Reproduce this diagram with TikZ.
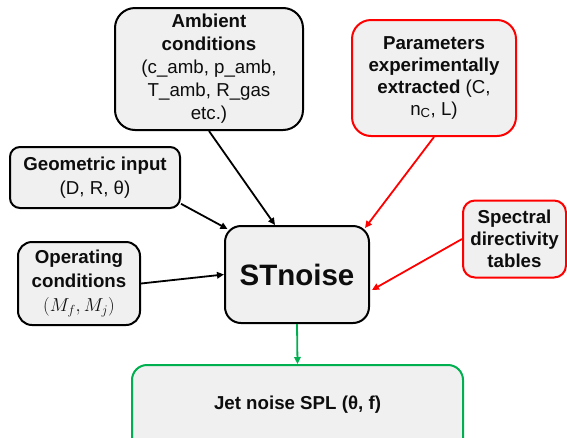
\documentclass[tikz,border=0pt]{standalone}
\usepackage{fix-cm}
\usepackage{fontspec}
\setmainfont{Liberation Sans}
\usetikzlibrary{arrows.meta,calc}
\definecolor{boxfill}{HTML}{F0F0F0}
\definecolor{redline}{HTML}{FF0000}
\definecolor{greenline}{HTML}{00B050}
\definecolor{txt}{HTML}{0D0D0D}
\begin{document}
\begin{tikzpicture}[x=1pt,y=-1pt,
  box/.style={draw=black,line width=2pt,fill=boxfill,align=center,inner sep=0pt,
    text=txt,font=\fontsize{18.7}{23}\selectfont},
  redbox/.style={box,draw=redline},
  greenbox/.style={box,draw=greenline},
  arr/.style={line width=1.8pt,-{Triangle[length=7pt,width=6.5pt]}},
]
\useasboundingbox (0,0) rectangle (567,437);
\fill[white] (0,0) rectangle (567,437);

\node[box,minimum width=188pt,minimum height=122pt,rounded corners=20pt] (amb) at (209,69)
  {\textbf{Ambient}\\\textbf{conditions}\\(c\_amb, p\_amb,\\T\_amb, R\_gas\\etc.)};
\node[redbox,minimum width=164pt,minimum height=116pt,rounded corners=19pt,
  font=\fontsize{18.7}{21.7}\selectfont] (par) at (434,78)
  {\textbf{Parameters}\\\textbf{experimentally}\\\textbf{extracted} (C,\\n\textsubscript{C}, L)};
\node[box,minimum width=170pt,minimum height=61pt,rounded corners=10pt,
  font=\fontsize{18.7}{24}\selectfont] (geo) at (95,177.5)
  {\textbf{Geometric input}\\(D, R, θ)};
\node[box,minimum width=122pt,minimum height=83pt,rounded corners=14pt,
  font=\fontsize{18.7}{24}\selectfont] (op) at (79,283.5)
  {\textbf{Operating}\\\textbf{conditions}\\$(M_f, M_j)$};
\node[box,minimum width=144pt,minimum height=97pt,rounded corners=16pt,
  font=\fontsize{29.5}{34}\selectfont\bfseries] (st) at (297,274.5) {STnoise};
\node[redbox,minimum width=103pt,minimum height=77pt,rounded corners=12pt,
  font=\fontsize{18.7}{22}\selectfont] (spec) at (514.5,239)
  {\textbf{Spectral}\\\textbf{directivity}\\\textbf{tables}};
\node[greenbox,minimum width=331pt,minimum height=90pt,rounded corners=15pt,
  font=\fontsize{18.7}{23}\selectfont\bfseries,anchor=north] (jet) at (297.5,364) {};
\node[text=txt,font=\fontsize{18.7}{23}\selectfont\bfseries] (jettxt) at (297.5,405) {Jet noise SPL (θ, f)};

\draw[arr] (amb.south) -- ($(st.north)+(-22,0)$);
\draw[arr] (geo.-17) -- ($(st.north west)+(3.5,4)$);
\draw[arr] (op.east) -- (st.west);
\draw[arr,draw=redline,fill=redline] (par.south) -- ($(st.north east)+(-5,3)$);
\draw[arr,draw=redline,fill=redline] (spec.west) -- ($(st.east)+(2,15.5)$);
\draw[arr,draw=greenline,fill=greenline] (st.south) -- (jet.north);
\end{tikzpicture}
\end{document}
